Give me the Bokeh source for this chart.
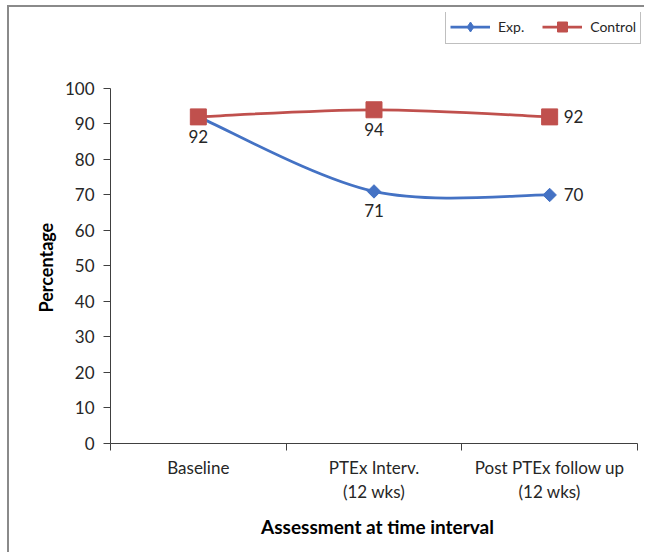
from bokeh.plotting import figure
from bokeh.models import (ColumnDataSource, FixedTicker, LinearAxis, Legend,
                          LegendItem, Title)
from bokeh.core.properties import value
from bokeh.embed import file_html
from bokeh.resources import INLINE
import numpy as np

# ---- data -----------------------------------------------------------------
categories = ["Baseline", "PTEx Interv.", "Post PTEx follow up"]
category_sub = ["", "(12 wks)", "(12 wks)"]
exp_values = [92, 71, 70]
control_values = [92, 94, 92]
# where each value label sits relative to its marker ("" = no label)
exp_label_pos = ["", "below", "right"]
control_label_pos = ["below", "below", "right"]
y_ticks = [0, 10, 20, 30, 40, 50, 60, 70, 80, 90, 100]

FONT = "Lato"
TXT = "#262626"
AXC = "#404040"
BLUE = "#4472C4"
RED = "#C0504D"

xs = np.arange(len(categories)) + 0.5


def smooth_segments(x, y):
    """Bezier control points for a Catmull-Rom style smoothed line."""
    pts = np.column_stack([x, y]).astype(float)
    n = len(pts)
    seg = {k: [] for k in ("x0", "y0", "x1", "y1", "cx0", "cy0", "cx1", "cy1")}
    for i in range(n - 1):
        p0 = pts[max(i - 1, 0)]
        p1 = pts[i]
        p2 = pts[i + 1]
        p3 = pts[min(i + 2, n - 1)]
        c1 = p1 + (p2 - p0) / 6.0
        c2 = p2 - (p3 - p1) / 6.0
        seg["x0"].append(p1[0]); seg["y0"].append(p1[1])
        seg["x1"].append(p2[0]); seg["y1"].append(p2[1])
        seg["cx0"].append(c1[0]); seg["cy0"].append(c1[1])
        seg["cx1"].append(c2[0]); seg["cy1"].append(c2[1])
    return ColumnDataSource(seg)


def label_source(x, y, pos):
    d = {"x": [], "y": [], "text": [], "xo": [], "yo": [], "align": [], "base": []}
    for xi, yi, p in zip(x, y, pos):
        if not p:
            continue
        d["x"].append(xi); d["y"].append(yi); d["text"].append(str(yi))
        if p == "below":
            d["xo"].append(0); d["yo"].append(13); d["align"].append("center"); d["base"].append("top")
        else:
            d["xo"].append(14); d["yo"].append(0); d["align"].append("left"); d["base"].append("middle")
    return ColumnDataSource(d)


# y range runs past 100 so the legend fits inside the frame; the axis stops at 100
p = figure(width=637, height=547, x_range=(0, 3.04), y_range=(0, 121.4),
           output_backend="svg", toolbar_location=None,
           min_border_left=101, min_border_right=2, min_border_top=5,
           min_border_bottom=111, margin=(5, 0, 0, 7),
           x_axis_location=None, y_axis_location=None)
p.styles = {"border-left": "2px solid #8a8a8a", "border-top": "2px solid #8a8a8a"}
p.outline_line_color = None
p.xgrid.visible = False
p.ygrid.visible = False
p.background_fill_color = "white"
p.border_fill_color = "white"

# ---- axes -----------------------------------------------------------------
yaxis = LinearAxis(ticker=FixedTicker(ticks=y_ticks), bounds=(0, 100))
yaxis.axis_line_color = AXC
yaxis.major_tick_line_color = AXC
yaxis.major_tick_out = 7
yaxis.major_tick_in = 0
yaxis.minor_tick_line_color = None
yaxis.major_label_standoff = 9
yaxis.major_label_text_font = FONT
yaxis.major_label_text_font_size = "17px"
yaxis.major_label_text_color = TXT
p.add_layout(yaxis, "left")

ytitle = Title(text="Percentage", align="left", offset=131, standoff=10,
               text_font=FONT, text_font_size="18px", text_font_style="bold",
               text_color="black")
p.add_layout(ytitle, "left")

x_ticker = FixedTicker(ticks=list(xs), minor_ticks=[0, 1, 2, 3])
xaxis = LinearAxis(ticker=x_ticker, bounds=(0, 3))
xaxis.major_label_overrides = {float(x): c for x, c in zip(xs, categories)}
xaxis.axis_line_color = AXC
xaxis.major_tick_line_color = None
xaxis.major_tick_out = 0
xaxis.major_tick_in = 0
xaxis.minor_tick_line_color = AXC
xaxis.minor_tick_out = 7
xaxis.minor_tick_in = 0
xaxis.major_label_standoff = 6
xaxis.major_label_text_font = FONT
xaxis.major_label_text_font_size = "17px"
xaxis.major_label_text_color = TXT
p.add_layout(xaxis, "below")

xaxis2 = LinearAxis(ticker=FixedTicker(ticks=list(xs)),
                    axis_label="Assessment at time interval")
xaxis2.major_label_overrides = {float(x): c for x, c in zip(xs, category_sub)}
xaxis2.axis_line_color = None
xaxis2.major_tick_line_color = None
xaxis2.minor_tick_line_color = None
xaxis2.major_tick_out = 0
xaxis2.major_tick_in = 0
xaxis2.major_label_standoff = 0
xaxis2.major_label_text_font = FONT
xaxis2.major_label_text_font_size = "17px"
xaxis2.major_label_text_color = TXT
xaxis2.axis_label_text_font = FONT
xaxis2.axis_label_text_font_size = "19px"
xaxis2.axis_label_text_font_style = "bold"
xaxis2.axis_label_text_color = "black"
xaxis2.axis_label_standoff = 10
p.add_layout(xaxis2, "below")

# ---- series ---------------------------------------------------------------
exp_src = ColumnDataSource(dict(x=xs, y=exp_values))
ctl_src = ColumnDataSource(dict(x=xs, y=control_values))

exp_curve = p.bezier("x0", "y0", "x1", "y1", "cx0", "cy0", "cx1", "cy1",
                     source=smooth_segments(xs, exp_values),
                     line_color=BLUE, line_width=2.75)
ctl_curve = p.bezier("x0", "y0", "x1", "y1", "cx0", "cy0", "cx1", "cy1",
                     source=smooth_segments(xs, control_values),
                     line_color=RED, line_width=2.75)

# narrow diamond key for the legend, sits beneath the plotted markers
exp_key = p.scatter("x", "y", source=exp_src, marker="diamond", size=9,
                    fill_color=BLUE, line_color=BLUE)
exp_pts = p.scatter("x", "y", source=exp_src, marker="square", size=9.5,
                    angle=np.pi / 4, fill_color=BLUE, line_color=BLUE)
ctl_pts = p.scatter("x", "y", source=ctl_src, marker="square", size=16,
                    fill_color=RED, line_color=RED)

for src in (label_source(xs, exp_values, exp_label_pos),
            label_source(xs, control_values, control_label_pos)):
    p.text("x", "y", text="text", source=src, x_offset="xo", y_offset="yo",
           text_align="align", text_baseline="base", text_font=value(FONT),
           text_font_size="17px", text_color=TXT)

# ---- legend ---------------------------------------------------------------
legend = Legend(items=[LegendItem(label="Exp.", renderers=[exp_curve, exp_key]),
                       LegendItem(label="Control", renderers=[ctl_curve, ctl_pts])],
                location=(335, 399), orientation="horizontal")
legend.glyph_width = 40
legend.glyph_height = 25
legend.label_standoff = 8
legend.spacing = 18
legend.padding = 4
legend.margin = 0
legend.border_line_color = "#7f7f7f"
legend.border_line_width = 1
legend.label_text_font = FONT
legend.label_text_font_size = "14px"
legend.label_text_color = TXT
legend.background_fill_color = "white"
p.add_layout(legend)

open("out.html", "w").write(file_html(p, INLINE))
